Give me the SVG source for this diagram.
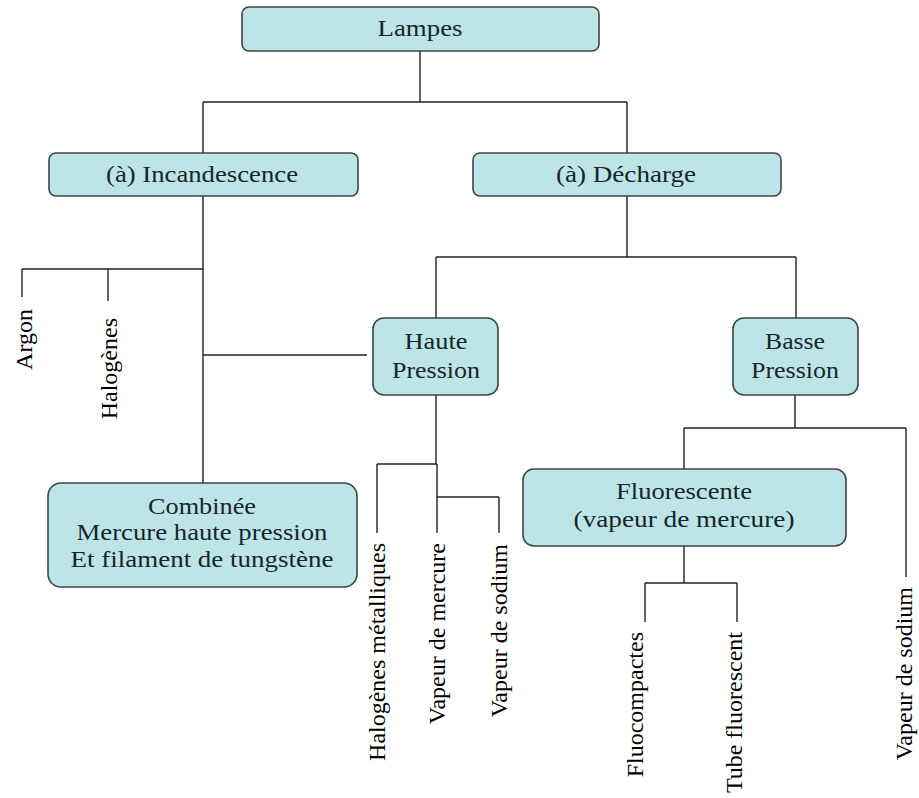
<svg xmlns="http://www.w3.org/2000/svg" width="919" height="798" viewBox="0 0 919 798">
<style>
.box{fill:#bde5e8;stroke:#3b4646;stroke-width:1.6}
.bt{font-family:"Liberation Serif","Times New Roman",serif;font-size:23px;fill:#16262a;text-anchor:middle}
.vt{font-family:"Liberation Serif","Times New Roman",serif;font-size:24px;fill:#000;text-anchor:end}
.ln{fill:none;stroke:#222;stroke-width:1.4}
</style>
<rect width="919" height="798" fill="#fff"/>
<g id="connectors" class="ln">
<path d="M420,51V102M203,102H627M203,102V153M627,102V153"/>
<path d="M203,196V483M22,269H203M22,269V297M108,269V301M203,355H367"/>
<path d="M627,196V257M436,257H796M436,257V318M796,257V318"/>
<path d="M436,395V464M377,464H437M377,464V533M437,464V533M437,497H499M499,497V533"/>
<path d="M795,395V428M684,428H906M684,428V469M906,428V577"/>
<path d="M684,546V583M645,583H737M645,583V622M737,583V622"/>
</g>
<g id="lampes"><rect class="box" x="242" y="7" width="357" height="44" rx="7"/><text class="bt" x="420" y="36" textLength="85" lengthAdjust="spacingAndGlyphs">Lampes</text></g>
<g id="incandescence"><rect class="box" x="49" y="153" width="309" height="43" rx="7"/><text class="bt" x="202" y="182" textLength="192" lengthAdjust="spacingAndGlyphs">(à) Incandescence</text></g>
<g id="decharge"><rect class="box" x="473" y="153" width="308" height="43" rx="7"/><text class="bt" x="626" y="182" textLength="140" lengthAdjust="spacingAndGlyphs">(à) Décharge</text></g>
<g id="haute"><rect class="box" x="373" y="318" width="125" height="77" rx="11"/><text class="bt" x="436" y="349" textLength="63" lengthAdjust="spacingAndGlyphs">Haute</text><text class="bt" x="436" y="378" textLength="88" lengthAdjust="spacingAndGlyphs">Pression</text></g>
<g id="basse"><rect class="box" x="733" y="318" width="125" height="77" rx="11"/><text class="bt" x="795" y="349" textLength="60" lengthAdjust="spacingAndGlyphs">Basse</text><text class="bt" x="795" y="378" textLength="88" lengthAdjust="spacingAndGlyphs">Pression</text></g>
<g id="combinee"><rect class="box" x="48" y="483" width="309" height="104" rx="13"/><text class="bt" x="202" y="514" textLength="108" lengthAdjust="spacingAndGlyphs">Combinée</text><text class="bt" x="202" y="540" textLength="251" lengthAdjust="spacingAndGlyphs">Mercure haute pression</text><text class="bt" x="202" y="567" textLength="263" lengthAdjust="spacingAndGlyphs">Et filament de tungstène</text></g>
<g id="fluorescente"><rect class="box" x="523" y="469" width="323" height="77" rx="11"/><text class="bt" x="684" y="499" textLength="136" lengthAdjust="spacingAndGlyphs">Fluorescente</text><text class="bt" x="684" y="527" textLength="221" lengthAdjust="spacingAndGlyphs">(vapeur de mercure)</text></g>
<g id="argon"><text class="vt" transform="translate(32,309) rotate(-90)">Argon</text></g>
<g id="halogenes"><text class="vt" transform="translate(117,318) rotate(-90)">Halogènes</text></g>
<g id="halogenes-metalliques"><text class="vt" transform="translate(385,543) rotate(-90)">Halogènes métalliques</text></g>
<g id="vapeur-mercure"><text class="vt" transform="translate(445,543) rotate(-90)">Vapeur de mercure</text></g>
<g id="vapeur-sodium-hp"><text class="vt" transform="translate(507,544) rotate(-90)">Vapeur de sodium</text></g>
<g id="fluocompactes"><text class="vt" transform="translate(643,632) rotate(-90)">Fluocompactes</text></g>
<g id="tube-fluorescent"><text class="vt" transform="translate(742,632) rotate(-90)">Tube fluorescent</text></g>
<g id="vapeur-sodium-bp"><text class="vt" transform="translate(912,587) rotate(-90)">Vapeur de sodium</text></g>
</svg>
